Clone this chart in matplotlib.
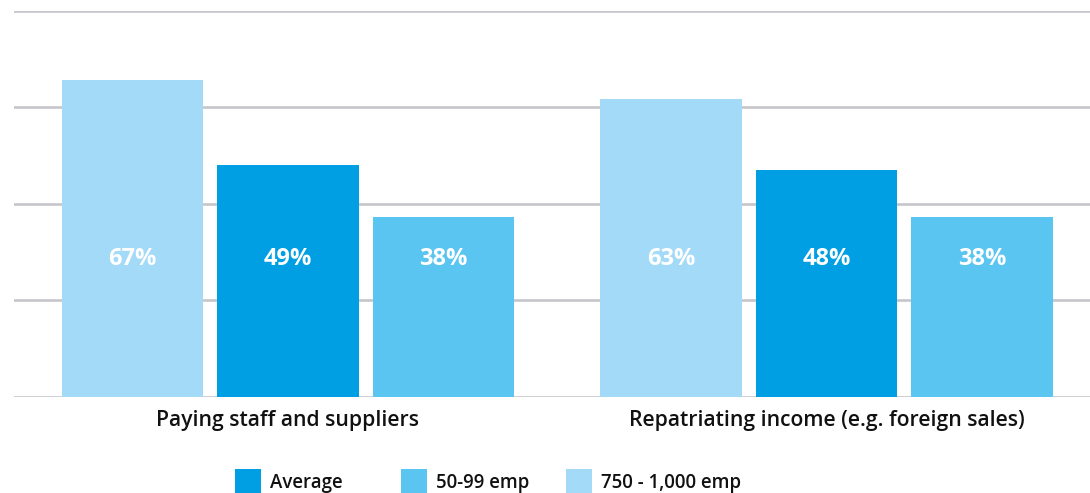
import matplotlib.pyplot as plt
from matplotlib import font_manager
import numpy as np

plt.rcParams['font.family'] = ['Open Sans', 'DejaVu Sans']


def font_file(name):
    for f in font_manager.fontManager.ttflist:
        if f.fname.endswith(name):
            return font_manager.FontProperties(fname=f.fname)
    return font_manager.FontProperties(family='Open Sans', weight='bold')


semi = font_file('OpenSans-Semibold.ttf')
bold = font_file('OpenSans-Bold.ttf')

categories = ['Paying staff and suppliers', 'Repatriating income (e.g. foreign sales)']
series_names = ['750 - 1,000 emp', 'Average', '50-99 emp']
large_firms = [67, 63]
average = [49, 48]
small_firms = [38, 38]

colors = ['#a3daf7', '#009fe3', '#5bc5f2']
values = [large_firms, average, small_firms]

fig = plt.figure(figsize=(10.9, 4.93), dpi=100)
ax = fig.add_axes([14 / 1090, 1 - 396.5 / 493, 1 - 14 / 1090, (396.5 - 10.5) / 493])

x = np.arange(len(categories))
width = 0.262
step = 0.2888
bars = {}
for i, (name, vals, col) in enumerate(zip(series_names, values, colors)):
    pos = x + (i - 1) * step
    bars[name] = ax.bar(pos, vals, width, color=col, label=name, zorder=2)
    for p, v in zip(pos, vals):
        ax.text(p, 29.0, f'{v}%', ha='center', va='center', color='white',
                fontproperties=bold, fontsize=17, zorder=3)

top = 81.7
ax.set_ylim(0, top)
ax.set_xlim(-0.5088, 1.4893)
ax.set_yticks(np.linspace(0, top, 5))
ax.yaxis.grid(True, color='#c6c5ca', linewidth=1.9)
ax.set_axisbelow(True)
ax.tick_params(axis='y', left=False, labelleft=False)
ax.set_xticks(x)
ax.set_xticklabels(categories, fontproperties=semi, fontsize=15.2, color='#111111')
ax.tick_params(axis='x', bottom=False, pad=6.5)
for s in ax.spines.values():
    s.set_visible(False)

# legend entries sit in equally spaced columns
leg_font = semi.copy()
leg_font.set_size(13.4)
legend_order = ['Average', '50-99 emp', '750 - 1,000 emp']
for k, name in enumerate(legend_order):
    x0 = (235 + k * 165.5) / 1090
    leg = fig.legend([bars[name]], [name], loc='upper left', bbox_to_anchor=(x0, 1 - 469 / 493),
                     frameon=False, prop=leg_font, handlelength=1.4, handleheight=1.85,
                     handletextpad=0.5, borderpad=0, borderaxespad=0)
    for t in leg.get_texts():
        t.set_color('#111111')

fig.savefig('out.png', dpi=100)
